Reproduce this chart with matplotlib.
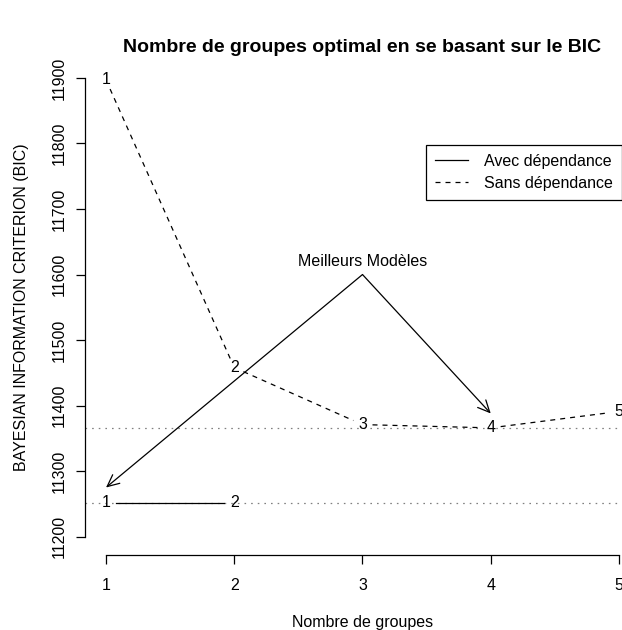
#!/usr/bin/env python3
"""bic_groupes.py"""

# Choix du nombre de groupes par le critère BIC

import numpy as np
import matplotlib
matplotlib.use("Agg")
import matplotlib.pyplot as plt
from matplotlib.lines import Line2D

plt.rcParams['font.family'] = ['Liberation Sans', 'DejaVu Sans']

# Valeurs du BIC selon le nombre de groupes
groupes_avec = [1, 2]
bic_avec = [11252, 11252]
groupes_sans = [1, 2, 3, 4, 5]
bic_sans = [11897, 11458, 11371, 11366, 11391]

# Flèches vers les meilleurs modèles
origine_fleche = (3, 11600)
cible_x = [1, 4]
cible_y = [11275, 11388]
texte_meilleurs = "Meilleurs Modèles"

ticks_x = [1, 2, 3, 4, 5]
ticks_y = [11200, 11300, 11400, 11500, 11600, 11700, 11800, 11900]

W, H = 622, 630
FS = 11.5


def trace_avec_ecart(ax, x, y, ecart=10, **kw):
    """Trace les segments entre points en laissant un espace autour des étiquettes"""
    pts = ax.transData.transform(np.column_stack([x, y]))
    inv = ax.transData.inverted()
    for a, b in zip(pts[:-1], pts[1:]):
        d = b - a
        u = d / np.hypot(*d)
        seg = inv.transform(np.array([a + u * ecart, b - u * ecart]))
        ax.plot(seg[:, 0], seg[:, 1], **kw)
    for i, (xi, yi) in enumerate(zip(x, y)):
        ax.text(xi, yi, str(i + 1), ha='center', va='center', fontsize=FS)


def main() -> None:
    fig = plt.figure(figsize=(W / 100, H / 100), dpi=100)
    ax = fig.add_axes([85.5 / W, 1 - 555 / H, 554 / W, (555 - 59.6) / H])
    ax.set_xlim(0.84, 5.16)
    ax.set_ylim(11172, 11928)

    for s in ['top', 'right']:
        ax.spines[s].set_visible(False)
    ax.spines['left'].set_bounds(11200, 11900)
    ax.spines['bottom'].set_bounds(1, 5)
    for s in ['left', 'bottom']:
        ax.spines[s].set_linewidth(0.9)

    ax.set_xticks(ticks_x)
    ax.set_yticks(ticks_y)
    ax.set_yticklabels([str(v) for v in ticks_y], rotation=90, va='center')
    ax.tick_params(axis='both', direction='out', length=6.5, width=0.9, labelsize=FS)
    ax.tick_params(axis='x', pad=10)
    ax.tick_params(axis='y', pad=7)

    # Minima de chaque série
    ax.axhline(min(bic_avec), color='gray', lw=0.9, dashes=(1.3, 4))
    ax.axhline(min(bic_sans), color='gray', lw=0.9, dashes=(1.3, 4))

    trace_avec_ecart(ax, groupes_avec, bic_avec, color='black', lw=0.9)
    trace_avec_ecart(ax, groupes_sans, bic_sans, color='black', lw=0.9, dashes=(4, 4))

    for cx, cy in zip(cible_x, cible_y):
        ax.annotate('', xy=(cx, cy), xytext=origine_fleche,
                    arrowprops=dict(arrowstyle='->,head_length=0.85,head_width=0.4',
                                    mutation_scale=10, color='black', lw=0.9,
                                    shrinkA=0, shrinkB=0))
    ax.text(origine_fleche[0], 11620, texte_meilleurs, ha='center', va='center', fontsize=FS)

    handles = [Line2D([], [], color='black', lw=0.9),
               Line2D([], [], color='black', lw=0.9, dashes=(4, 4))]
    leg = fig.legend(handles, ["Avec dépendance", "Sans dépendance"],
                     loc='upper left', bbox_to_anchor=(426 / W, 1 - 145 / H),
                     fontsize=FS, frameon=True, fancybox=False, edgecolor='black',
                     framealpha=1, borderpad=0.55, handlelength=2.1,
                     handletextpad=1.0, labelspacing=0.45, borderaxespad=0)
    leg.get_frame().set_linewidth(0.9)

    fig.text(362.5 / W, 1 - 47 / H, "Nombre de groupes optimal en se basant sur le BIC",
             ha='center', va='center', fontsize=14, fontweight='bold')
    fig.text(362.5 / W, 1 - 622 / H, "Nombre de groupes", ha='center', va='center', fontsize=FS)
    fig.text(22 / W, 1 - 307 / H, "BAYESIAN INFORMATION CRITERION (BIC)",
             ha='center', va='center', rotation=90, fontsize=FS)

    fig.savefig("out.png", dpi=100)


if __name__ == "__main__":
    main()
